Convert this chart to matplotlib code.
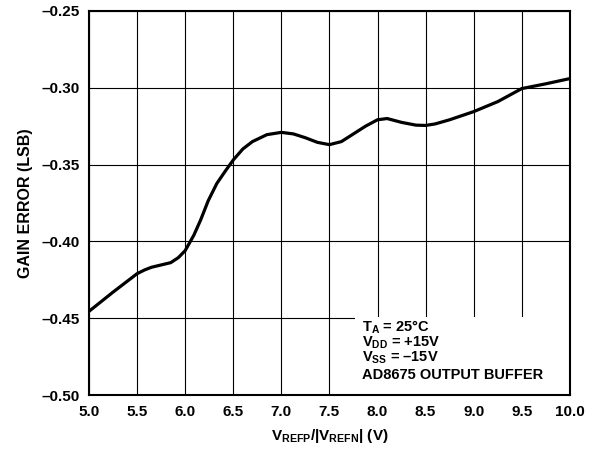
import numpy as np
import matplotlib.pyplot as plt
from matplotlib.patches import Rectangle

# Datos
v_ref = [5.0, 5.25, 5.5, 5.58, 5.65, 5.85, 5.93, 6.0, 6.09, 6.16, 6.24, 6.33,
         6.42, 6.5, 6.6, 6.7, 6.85, 7.0, 7.125, 7.25, 7.375, 7.5, 7.625, 7.75,
         7.875, 8.0, 8.1, 8.25, 8.4, 8.5, 8.6, 8.75, 9.0, 9.25, 9.5, 9.75, 10.0]
gain_error = [-0.4455, -0.433, -0.421, -0.4185, -0.4168, -0.4138, -0.4105,
              -0.406, -0.3960, -0.3862, -0.3735, -0.3622, -0.3540, -0.3470,
              -0.3398, -0.3350, -0.3305, -0.329, -0.330, -0.3325, -0.3355,
              -0.337, -0.335, -0.330, -0.325, -0.3208, -0.3200, -0.3225,
              -0.3243, -0.3245, -0.3235, -0.3208, -0.3155, -0.309, -0.3005,
              -0.2974, -0.294]
x_ticks = [5.0, 5.5, 6.0, 6.5, 7.0, 7.5, 8.0, 8.5, 9.0, 9.5, 10.0]
y_ticks = [-0.50, -0.45, -0.40, -0.35, -0.30, -0.25]
notes = ['$T_A$ = 25°C', '$V_{DD}$ = +15V', '$V_{SS}$ = –15V', 'AD8675 OUTPUT BUFFER']

plt.rcParams['font.family'] = 'Liberation Sans'
plt.rcParams['font.weight'] = 'bold'
plt.rcParams['mathtext.fontset'] = 'custom'
plt.rcParams['mathtext.rm'] = 'Liberation Sans:bold'
plt.rcParams['mathtext.it'] = 'Liberation Sans:bold'
plt.rcParams['mathtext.bf'] = 'Liberation Sans:bold'
plt.rcParams['mathtext.default'] = 'rm'

fig = plt.figure(figsize=(5.93, 4.5), dpi=100)
ax = fig.add_axes([0.150, 0.122, 0.811, 0.8536])

# Rejilla
ax.set_xlim(5.0, 10.0)
ax.set_ylim(-0.50, -0.25)
ax.set_xticks(x_ticks)
ax.set_yticks(y_ticks)
ax.set_xticklabels([f'{t:.1f}' for t in x_ticks], fontsize=11, fontweight='bold')
ax.set_yticklabels([f'–{abs(t):.2f}' for t in y_ticks], fontsize=11, fontweight='bold')
ax.tick_params(axis='x', length=0, pad=7)
ax.tick_params(axis='y', length=0, pad=6.5)
ax.grid(True, color='black', linewidth=0.8)
ax.set_axisbelow(True)

for s in ax.spines.values():
    s.set_linewidth(1.5)
    s.set_zorder(5)

# Curva
ax.plot(v_ref, gain_error, color='black', linewidth=2.3, zorder=3,
        solid_joinstyle='round', solid_capstyle='round')

# Recuadro con las condiciones
ax.add_patch(Rectangle((0.554, 0.0), 0.446, 0.203, transform=ax.transAxes,
                       facecolor='white', edgecolor='none', zorder=4))
y_pos = [0.166, 0.126, 0.086, 0.041]
for txt, yp in zip(notes, y_pos):
    ax.text(0.568, yp, txt, transform=ax.transAxes, fontsize=10.5,
            fontweight='bold', va='baseline', ha='left', zorder=6)

ax.set_xlabel('$V_{REFP}$/|$V_{REFN}$| (V)', fontsize=11, fontweight='bold', labelpad=6)
ax.set_ylabel('GAIN ERROR (LSB)', fontsize=11.5, fontweight='bold', labelpad=6)

fig.savefig('out.png', dpi=100)
